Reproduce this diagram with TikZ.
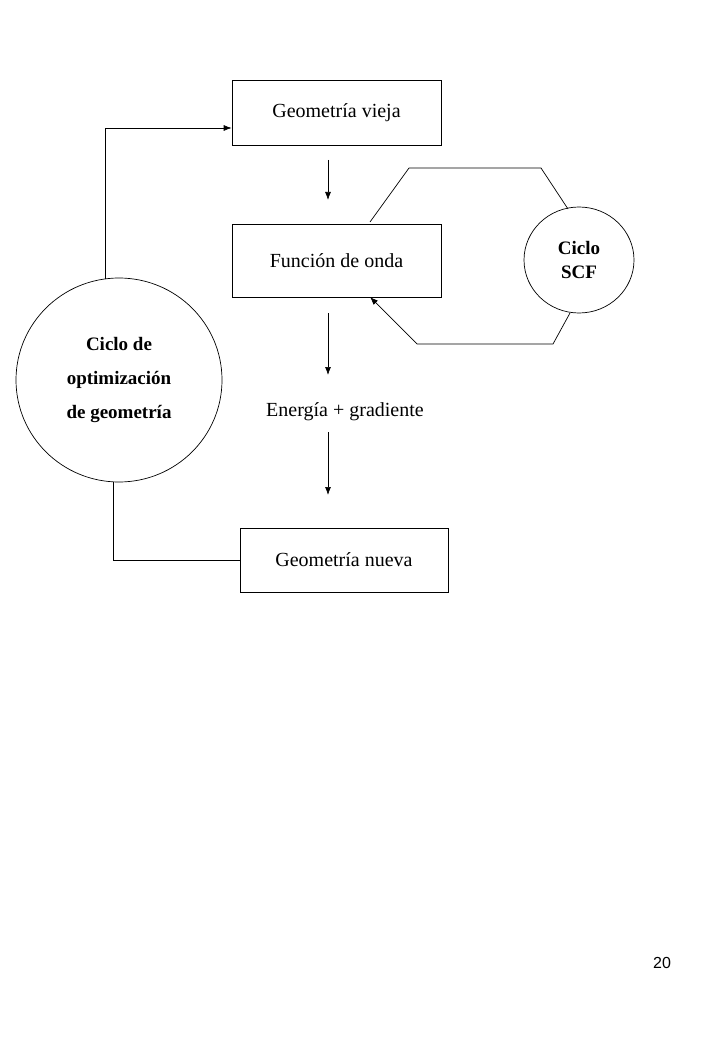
\documentclass[tikz,border=0pt]{standalone}
\usepackage{fontspec}
\setmainfont{Liberation Serif}
\newfontfamily\pgsans{Liberation Sans}
\usetikzlibrary{shapes.geometric,arrows.meta}
\begin{document}
\begin{tikzpicture}[x=1pt,y=-1pt,
  box/.style={draw,line width=0.7pt,minimum width=209pt,minimum height=65pt,inner sep=0pt,font=\fontsize{20}{24}\selectfont},
  oval/.style={draw,line width=0.7pt,ellipse,inner sep=0pt,font=\bfseries\fontsize{19}{24}\selectfont,align=center},
  con/.style={line width=0.7pt},
  arr/.style={con,-{Latex[length=8pt,width=6pt]}}]
\useasboundingbox (0,0) rectangle (720,1040);
\node[box,minimum width=209pt,minimum height=65pt] (gv) at (336.5,112.5) {Geometría vieja};
\node[box,minimum width=209pt,minimum height=73pt] (fo) at (336.5,260.5) {Función de onda};
\node[box,minimum width=208pt,minimum height=64pt] (gn) at (344,560) {Geometría nueva};
\node[font=\fontsize{20}{24}\selectfont] (eg) at (345,412) {Energía + gradiente};
\node[oval,minimum width=206pt,minimum height=204pt] (opt) at (119,380) {Ciclo de\\[10pt]optimización\\[10pt]de geometría};
\node[oval,minimum width=110pt,minimum height=106pt] (scf) at (579,260) {Ciclo\\SCF};
\node[font=\pgsans\fontsize{16}{19}\selectfont] (pg) at (662,963) {20};
\coordinate (a1) at (328,160); \coordinate (a2) at (328,200);
\coordinate (b1) at (328,313); \coordinate (b2) at (328,375);
\coordinate (c1) at (328,432); \coordinate (c2) at (328,495);
\draw[arr] (a1) -- (a2);
\draw[arr] (b1) -- (b2);
\draw[arr] (c1) -- (c2);
\draw[arr] (105,279) |- (gv.west |- 0,128);
\draw[con] (113,482) |- (gn.west);
\draw[con] (370,222) -- (409,168) -- (541,168) -- (568,209);
\draw[arr] (570,313) -- (553,344) -- (417,344) -- (370,297);
\end{tikzpicture}
\end{document}
